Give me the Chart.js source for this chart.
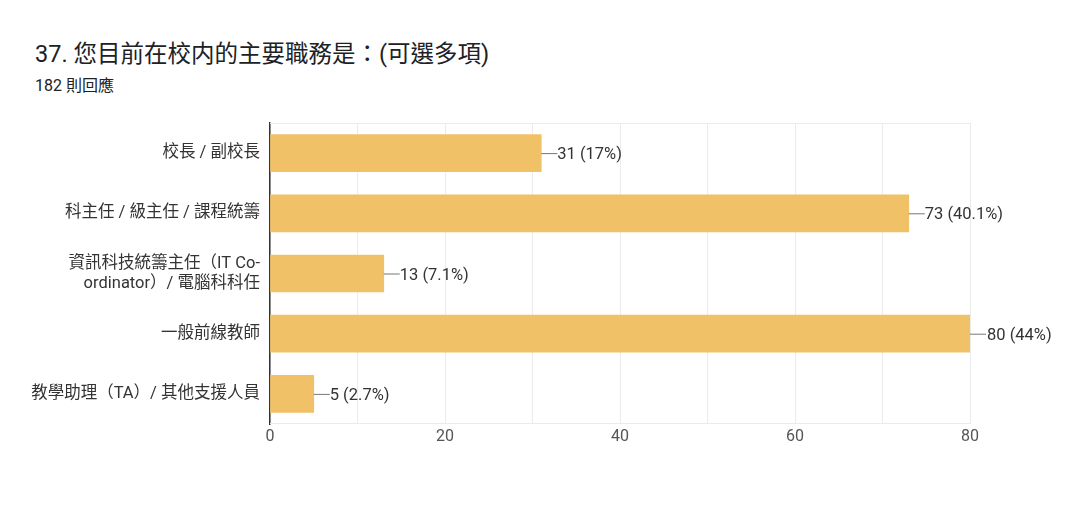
<!DOCTYPE html>
<html>
<head>
<meta charset="utf-8">
<script src="https://cdn.jsdelivr.net/npm/chart.js@4"></script>
<style>
  body { margin: 0; background: #fff; font-family: Roboto, "Noto Sans CJK TC", sans-serif; }
  #wrap { position: relative; width: 1080px; height: 513px; }
  #title { position: absolute; left: 35px; top: 35px; font-size: 23.5px; color: #202124; }
  #sub { position: absolute; left: 35px; top: 72px; font-size: 16px; color: #202124; }
  canvas { position: absolute; left: 0; top: 0; }
</style>
</head>
<body>
<div id="wrap">
  <div id="title">37. 您目前在校内的主要職務是：(可選多項)</div>
  <div id="sub">182 則回應</div>
  <canvas id="c" width="1080" height="513"></canvas>
</div>
<script>
const categories = [
    '校長 / 副校長',
    '科主任 / 級主任 / 課程統籌',
    ['資訊科技統籌主任（IT Co-', 'ordinator）/ 電腦科科任'],
    '一般前線教師',
    '教學助理（TA）/ 其他支援人員'
];
const counts = [31, 73, 13, 80, 5];
const percents = ['17%', '40.1%', '7.1%', '44%', '2.7%'];
const FONT = 'Roboto, "Noto Sans CJK TC", sans-serif';

const valueLabels = {
    id: 'valueLabels',
    afterDatasetsDraw(chart) {
        const ctx = chart.ctx;
        const meta = chart.getDatasetMeta(0);
        ctx.save();
        ctx.font = '16.5px ' + FONT;
        ctx.fillStyle = '#333';
        ctx.textBaseline = 'middle';
        meta.data.forEach((bar, i) => {
            const x = bar.x, y = bar.y;
            ctx.strokeStyle = '#777';
            ctx.lineWidth = 1;
            ctx.beginPath();
            ctx.moveTo(x, y + 0.5);
            ctx.lineTo(x + 16, y + 0.5);
            ctx.stroke();
            ctx.fillText(`${counts[i]} (${percents[i]})`, x + (counts[i] === 80 ? 17 : 16), y + 2);
        });
        ctx.restore();
    }
};

new Chart(document.getElementById('c'), {
    type: 'bar',
    data: {
        labels: categories,
        datasets: [{
            data: counts,
            backgroundColor: '#f0c166',
            barThickness: 37
        }]
    },
    options: {
        indexAxis: 'y',
        responsive: false,
        animation: false,
        layout: { padding: { top: 123, right: 110, bottom: 59, left: 0 } },
        plugins: { legend: { display: false }, tooltip: { enabled: false } },
        scales: {
            x: {
                min: 0, max: 80,
                ticks: {
                    stepSize: 10,
                    color: '#555',
                    font: { size: 16, family: FONT },
                    callback: v => (v % 20 === 0 ? v : '')
                },
                grid: { color: '#ebebeb', drawTicks: false },
                border: { display: false },
                afterFit: s => { s.height = 30; }
            },
            y: {
                ticks: { color: '#333', font: { size: 16.5, family: FONT }, padding: 2 },
                grid: { display: false },
                border: { color: '#333', width: 1.5 },
                afterFit: s => { s.width = 270; }
            }
        }
    },
    plugins: [valueLabels, {
        id: 'frame',
        beforeDatasetsDraw(chart) {
            const a = chart.chartArea, ctx = chart.ctx;
            ctx.save();
            ctx.strokeStyle = '#ebebeb';
            ctx.beginPath();
            ctx.moveTo(a.left, a.top + 0.5); ctx.lineTo(a.right, a.top + 0.5);
            ctx.moveTo(a.left, a.bottom - 0.5); ctx.lineTo(a.right, a.bottom - 0.5);
            ctx.stroke();
            ctx.restore();
        }
    }]
});
</script>
</body>
</html>
